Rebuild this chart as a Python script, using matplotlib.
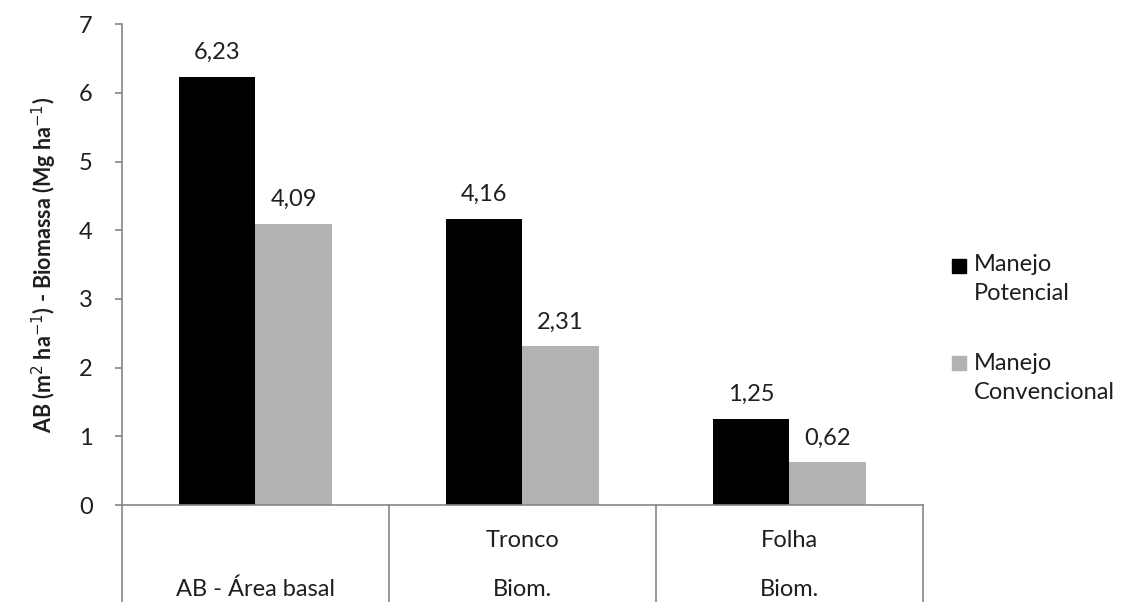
import matplotlib
matplotlib.use('Agg')
import matplotlib.pyplot as plt
from matplotlib.lines import Line2D
from matplotlib.patches import Rectangle
from matplotlib.transforms import blended_transform_factory
import numpy as np

plt.rcParams['font.family'] = ['Lato', 'DejaVu Sans']

# chart data
categories = ['AB - Área basal', 'Biom.', 'Biom.']
subcategories = ['', 'Tronco', 'Folha']
series_names = ['Manejo\nPotencial', 'Manejo\nConvencional']
potencial = [6.23, 4.16, 1.25]
convencional = [4.09, 2.31, 0.62]
colors = ['#000000', '#B2B2B2']
axis_gray = '#868686'
text_color = '#1f1f1f'
fs = 17

fig = plt.figure(figsize=(11.23, 6.02), dpi=100)
ax = fig.add_axes([0.1086, 0.161, 0.7133, 0.799])

x = np.arange(len(categories))
w = 0.285
b1 = ax.bar(x - w / 2, potencial, w, color=colors[0])
b2 = ax.bar(x + w / 2, convencional, w, color=colors[1])

fmt = lambda v: f'{v:.2f}'.replace('.', ',')
for bars, vals in [(b1, potencial), (b2, convencional)]:
    ax.bar_label(bars, labels=[fmt(v) for v in vals], padding=10,
                 fontsize=fs, color=text_color)

ax.set_xlim(-0.5, len(categories) - 0.5)
ax.set_ylim(0, 7)
ax.set_yticks(range(0, 8))
ax.tick_params(axis='y', direction='out', length=5, width=1.2, color=axis_gray,
               labelsize=fs, labelcolor=text_color, pad=16)
ax.set_xticks([])

for s in ['top', 'right']:
    ax.spines[s].set_visible(False)
for s in ['left', 'bottom']:
    ax.spines[s].set_color(axis_gray)
    ax.spines[s].set_linewidth(1.2)

ax.set_ylabel('AB (m$^{2}$ ha$^{-1}$) - Biomassa (Mg ha$^{-1}$)',
              fontsize=15.5, fontweight='bold', labelpad=14, color=text_color)

# multi-level category axis below the plot
trans = ax.get_xaxis_transform()
low = blended_transform_factory(ax.transData, fig.transFigure)
for xb in np.arange(-0.5, len(categories), 1.0):
    ax.add_line(Line2D([xb, xb], [0, -0.25], transform=trans, color=axis_gray,
                       lw=1.2, clip_on=False))
for i in x:
    ax.text(i, -0.073, subcategories[i], transform=trans, ha='center',
            va='center', fontsize=fs, color=text_color)
    ax.text(i, 0.003, categories[i], transform=low, ha='center',
            va='bottom', fontsize=fs, color=text_color)

# legend: square aligned with the first line of each two-line label
leg_tops = [0.578, 0.4136]
sq_bottoms = [0.5465, 0.3854]
for name, col, top, sb in zip(series_names, colors, leg_tops, sq_bottoms):
    fig.patches.append(Rectangle((0.8477, sb), 0.0125, 0.0233,
                                 transform=fig.transFigure, color=col))
    fig.text(0.8673, top, name, fontsize=fs, color=text_color, va='top',
             ha='left', linespacing=1.45)

fig.savefig('out.png', dpi=100)
